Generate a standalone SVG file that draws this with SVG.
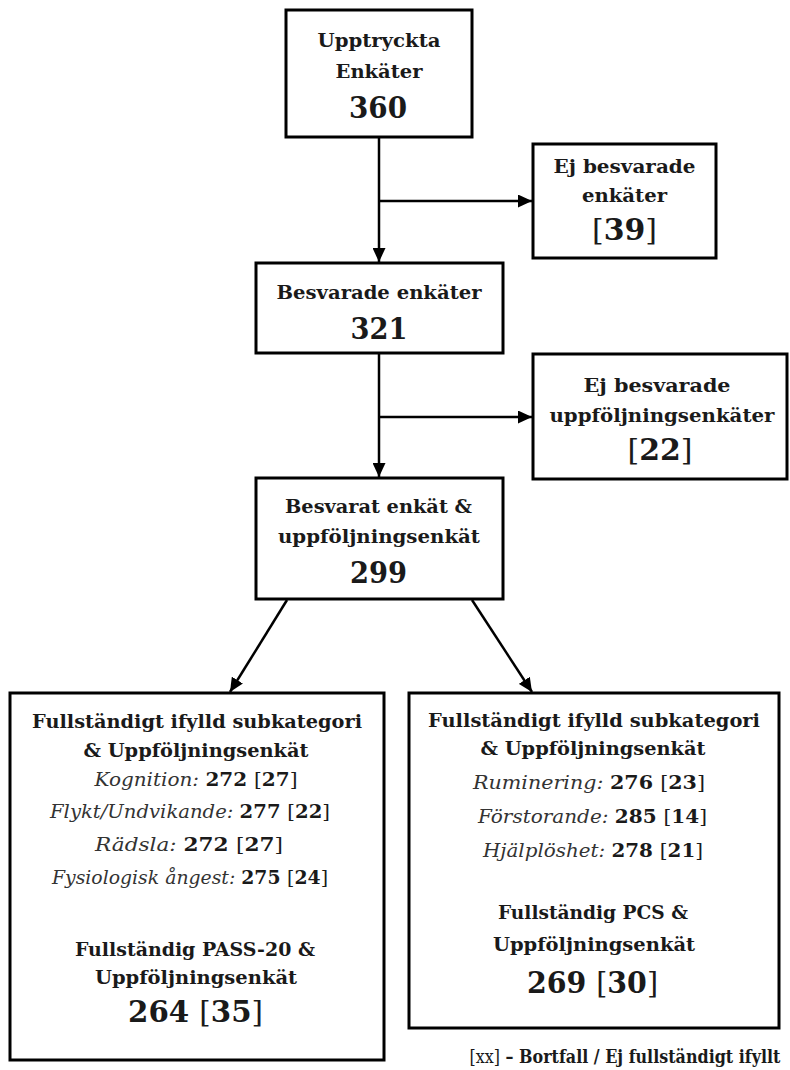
<svg xmlns="http://www.w3.org/2000/svg" width="790" height="1070" viewBox="0 0 790 1070">
<defs>
<marker id="arr" markerUnits="userSpaceOnUse" markerWidth="15" markerHeight="13" refX="14" refY="6.5" orient="auto">
<path d="M0,0 L14,6.5 L0,13 z" fill="#000"/>
</marker>
<style>
.box{fill:#fff;stroke:#000;stroke-width:3}
.con{fill:none;stroke:#000;stroke-width:2.5;marker-end:url(#arr)}
text{font-family:"DejaVu Serif","Liberation Serif",serif;fill:#1a1a1a;text-anchor:middle}
.b{font-weight:bold;font-size:19px}
.n{font-weight:bold;font-size:29px}
.br{font-weight:normal}
.it{font-style:italic;font-weight:normal;fill:#333}
</style>
</defs>
<rect width="790" height="1070" fill="#fff"/>
<g id="connectors">
<line class="con" x1="379" y1="137" x2="379" y2="262"/>
<line class="con" x1="379" y1="201" x2="532" y2="201"/>
<line class="con" x1="379" y1="353" x2="379" y2="477"/>
<line class="con" x1="379" y1="417" x2="532" y2="417"/>
<line class="con" x1="287" y1="600" x2="230" y2="692"/>
<line class="con" x1="472" y1="600" x2="532" y2="692"/>
</g>
<g id="n1">
<rect class="box" x="286" y="10" width="186" height="127"/>
<text class="b" x="379" y="47" textLength="123" lengthAdjust="spacingAndGlyphs">Upptryckta</text>
<text class="b" x="379" y="78" textLength="87" lengthAdjust="spacingAndGlyphs">Enkäter</text>
<text class="n" x="378" y="118" textLength="58" lengthAdjust="spacingAndGlyphs">360</text>
</g>
<g id="n2">
<rect class="box" x="533" y="144" width="183" height="114"/>
<text class="b" x="624.5" y="173" textLength="142" lengthAdjust="spacingAndGlyphs">Ej besvarade</text>
<text class="b" x="624.5" y="202" textLength="85" lengthAdjust="spacingAndGlyphs">enkäter</text>
<text class="n" x="624.5" y="240" textLength="65" lengthAdjust="spacingAndGlyphs"><tspan class="br">[</tspan>39<tspan class="br">]</tspan></text>
</g>
<g id="n3">
<rect class="box" x="256" y="263" width="247" height="90"/>
<text class="b" x="379" y="299" textLength="205" lengthAdjust="spacingAndGlyphs">Besvarade enkäter</text>
<text class="n" x="379" y="339" textLength="57" lengthAdjust="spacingAndGlyphs">321</text>
</g>
<g id="n4">
<rect class="box" x="533" y="354" width="254" height="125"/>
<text class="b" x="657" y="392" textLength="147" lengthAdjust="spacingAndGlyphs">Ej besvarade</text>
<text class="b" x="662" y="422" textLength="225" lengthAdjust="spacingAndGlyphs">uppföljningsenkäter</text>
<text class="n" x="660" y="460" textLength="65" lengthAdjust="spacingAndGlyphs"><tspan class="br">[</tspan>22<tspan class="br">]</tspan></text>
</g>
<g id="n5">
<rect class="box" x="256" y="478" width="247" height="121"/>
<text class="b" x="378.5" y="513" textLength="187" lengthAdjust="spacingAndGlyphs">Besvarat enkät &amp;</text>
<text class="b" x="379" y="543" textLength="202" lengthAdjust="spacingAndGlyphs">uppföljningsenkät</text>
<text class="n" x="378.5" y="583" textLength="57" lengthAdjust="spacingAndGlyphs">299</text>
</g>
<g id="n6">
<rect class="box" x="10" y="693" width="374" height="367"/>
<text class="b" x="197" y="728" textLength="330" lengthAdjust="spacingAndGlyphs">Fullständigt ifylld subkategori</text>
<text class="b" x="196" y="757" textLength="225" lengthAdjust="spacingAndGlyphs">&amp; Uppföljningsenkät</text>
<text class="b" x="196" y="786" textLength="203" lengthAdjust="spacingAndGlyphs"><tspan class="it">Kognition: </tspan>272 <tspan class="br">[</tspan>27<tspan class="br">]</tspan></text>
<text class="b" x="190" y="818" textLength="280" lengthAdjust="spacingAndGlyphs"><tspan class="it">Flykt/Undvikande: </tspan>277 <tspan class="br">[</tspan>22<tspan class="br">]</tspan></text>
<text class="b" x="189" y="851" textLength="188" lengthAdjust="spacingAndGlyphs"><tspan class="it">Rädsla: </tspan>272 <tspan class="br">[</tspan>27<tspan class="br">]</tspan></text>
<text class="b" x="190" y="884" textLength="276" lengthAdjust="spacingAndGlyphs"><tspan class="it">Fysiologisk ångest: </tspan>275 <tspan class="br">[</tspan>24<tspan class="br">]</tspan></text>
<text class="b" x="195" y="956" textLength="240" lengthAdjust="spacingAndGlyphs">Fullständig PASS-20 &amp;</text>
<text class="b" x="196" y="984" textLength="202" lengthAdjust="spacingAndGlyphs">Uppföljningsenkät</text>
<text class="n" x="195.5" y="1022" textLength="135" lengthAdjust="spacingAndGlyphs">264 <tspan class="br">[</tspan>35<tspan class="br">]</tspan></text>
</g>
<g id="n7">
<rect class="box" x="409" y="693" width="370" height="335"/>
<text class="b" x="594" y="727" textLength="332" lengthAdjust="spacingAndGlyphs">Fullständigt ifylld subkategori</text>
<text class="b" x="593" y="755" textLength="225" lengthAdjust="spacingAndGlyphs">&amp; Uppföljningsenkät</text>
<text class="b" x="589" y="789" textLength="232" lengthAdjust="spacingAndGlyphs"><tspan class="it">Ruminering: </tspan>276 <tspan class="br">[</tspan>23<tspan class="br">]</tspan></text>
<text class="b" x="592.5" y="823" textLength="229" lengthAdjust="spacingAndGlyphs"><tspan class="it">Förstorande: </tspan>285 <tspan class="br">[</tspan>14<tspan class="br">]</tspan></text>
<text class="b" x="593" y="857" textLength="220" lengthAdjust="spacingAndGlyphs"><tspan class="it">Hjälplöshet: </tspan>278 <tspan class="br">[</tspan>21<tspan class="br">]</tspan></text>
<text class="b" x="593" y="919" textLength="190" lengthAdjust="spacingAndGlyphs">Fullständig PCS &amp;</text>
<text class="b" x="594" y="951" textLength="202" lengthAdjust="spacingAndGlyphs">Uppföljningsenkät</text>
<text class="n" x="592.5" y="993" textLength="131" lengthAdjust="spacingAndGlyphs">269 <tspan class="br">[</tspan>30<tspan class="br">]</tspan></text>
</g>
<g id="legend">
<text class="b" transform="translate(625,1063) scale(0.84,1)" x="0" y="0"><tspan class="br">[xx]</tspan> – Bortfall / Ej fullständigt ifyllt</text>
</g>
</svg>
